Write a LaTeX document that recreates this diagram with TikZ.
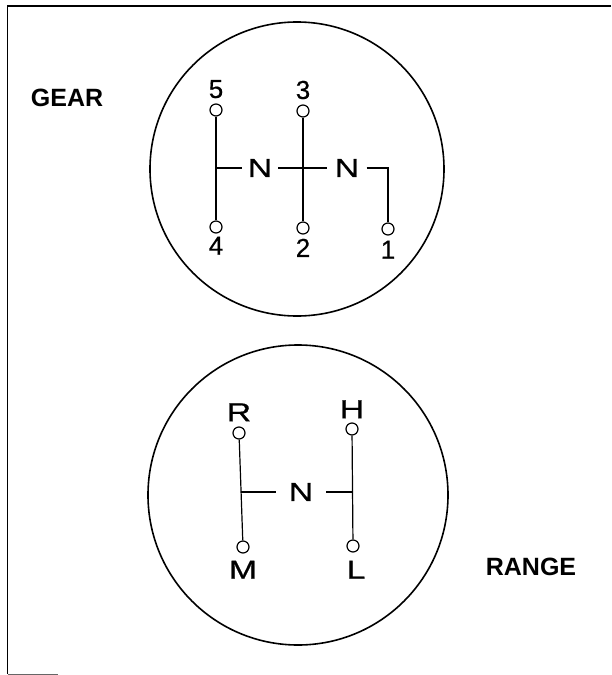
\documentclass[tikz,border=0pt]{standalone}
\usepackage{fontspec}
\setmainfont{Liberation Sans}
\newfontfamily\gatefont{Liberation Sans}[FakeBold=0.6]
\usetikzlibrary{positioning}
\newcommand{\gate}[1]{\scalebox{1.3}[1]{#1}}

\begin{document}
\begin{tikzpicture}[x=1pt,y=-1pt,
  knob/.style={draw,circle,line width=1.6pt,minimum size=#1,inner sep=0pt},
  slot/.style={draw,circle,line width=1.2pt,minimum size=12pt,inner sep=0pt},
  gatelabel/.style={inner sep=0pt,font=\gatefont\fontsize{26}{26}\selectfont},
  neutral/.style={gatelabel,inner xsep=#1},
  title/.style={inner sep=0pt,font=\fontsize{25}{25}\selectfont\bfseries},
  rod/.style={line width=1.2pt}]
  \useasboundingbox (0,0) rectangle (611,675);
  % frame
  \draw[line width=1.5pt] (611,6) -- (7.5,6) -- (7.5,674);
  \draw[line width=1pt,black!60] (7.5,674) -- (58,674);

  % gear lever
  \node[knob=294pt] (gearknob) at (297,169) {};
  \node[title] (gearlabel) at (67,98) {GEAR};
  \node[slot] (g5) at (216,110) {};
  \node[slot] (g4) at (216,227) {};
  \node[slot] (g3) at (303,111) {};
  \node[slot] (g2) at (303,228) {};
  \node[slot] (g1) at (388,229) {};
  \node[gatelabel,above=5pt of g5] (t5) {5};
  \node[gatelabel,below=3pt of g4] (t4) {4};
  \node[gatelabel,above=5pt of g3] (t3) {3};
  \node[gatelabel,below=4pt of g2] (t2) {2};
  \node[gatelabel,below=5pt of g1] (t1) {1};
  \node[neutral=5.8pt] (gn1) at (260,168) {\gate{N}};
  \node[neutral=7.2pt] (gn2) at (347,168) {\gate{N}};
  \coordinate (gj) at (216,168);
  \coordinate (gc) at (388,168);
  \draw[rod] (g5) -- (g4);
  \draw[rod] (g3) -- (g2);
  \draw[rod] (gj) -- (gn1) -- (gn2) -- (gc) -- (g1);

  % range lever
  \node[knob=300pt] (rangeknob) at (298,495) {};
  \node[title] (rangelabel) at (531,567) {RANGE};
  \node[slot] (rr) at (239,433) {};
  \node[slot] (rm) at (243,547) {};
  \node[slot] (rh) at (352,429) {};
  \node[slot] (rl) at (353,546) {};
  \node[gatelabel,above=5pt of rr] (tr) {\gate{R}};
  \node[gatelabel,below=7pt of rm] (tm) {\gate{M}};
  \node[gatelabel,above=4pt of rh] (th) {\gate{H}};
  \node[gatelabel,below=8pt of rl,xshift=3pt] (tl) {\gate{L}};
  \node[neutral=12.8pt] (rn) at (301,492) {\gate{N}};
  \coordinate (rjl) at (241,492);
  \coordinate (rjr) at (353,492);
  \draw[rod] (rr) -- (rm);
  \draw[rod] (rh) -- (rl);
  \draw[rod] (rjl) -- (rn) -- (rjr);
\end{tikzpicture}
\end{document}
